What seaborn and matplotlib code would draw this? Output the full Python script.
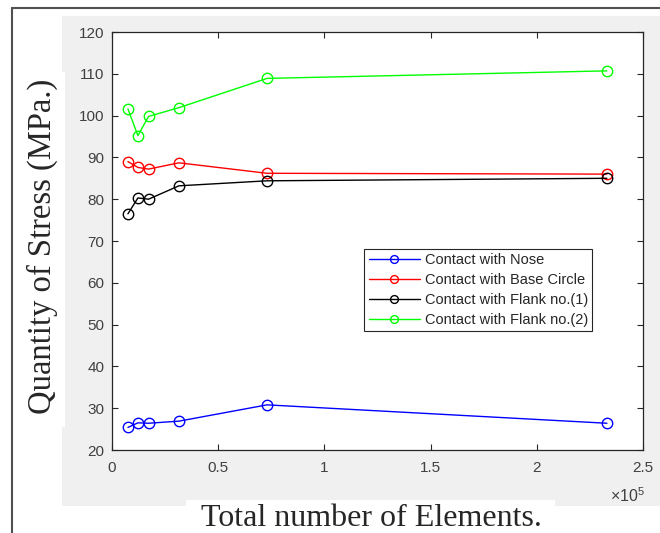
import pandas as pd
import matplotlib.pyplot as plt
import seaborn as sns
from matplotlib.patches import Rectangle
from matplotlib.lines import Line2D
from matplotlib.ticker import FuncFormatter

# datos
elementos = [7500, 12200, 17200, 31500, 73000, 233000]
nariz = [25.4, 26.5, 26.4, 26.9, 30.8, 26.4]
circulo_base = [89.0, 87.6, 87.2, 88.7, 86.2, 86.0]
flanco_1 = [76.5, 80.3, 80.0, 83.2, 84.4, 85.0]
flanco_2 = [101.6, 95.2, 99.8, 101.9, 108.9, 110.7]

series = ['Contact with Nose', 'Contact with Base Circle',
          'Contact with Flank no.(1)', 'Contact with Flank no.(2)']
colores = ['#0000ff', '#ff0000', '#000000', '#00ff00']

W, H = 660, 533


def caja(x0, y0, x1, y1):
    # convierte pixeles (origen arriba a la izquierda) a fraccion de figura
    return [x0 / W, 1 - y1 / H, (x1 - x0) / W, (y1 - y0) / H]


def main():
    df = pd.DataFrame({'Elementos': elementos * 4,
                       'Esfuerzo': nariz + circulo_base + flanco_1 + flanco_2,
                       'Serie': sum([[s] * len(elementos) for s in series], [])})

    sns.set_style('ticks')
    plt.rcParams['font.family'] = ['Liberation Sans', 'DejaVu Sans']
    plt.rcParams['mathtext.fontset'] = 'custom'
    plt.rcParams['mathtext.rm'] = 'Liberation Sans'

    fig = plt.figure(figsize=(6.6, 5.33), dpi=100)
    fig.patch.set_facecolor('white')

    # fondo gris estilo MATLAB y marco exterior
    for x0, y0, x1, y1, c in [(62, 16, 660, 506, '#f0f0f0'),
                              (12, 72, 65, 427, 'white'),
                              (186, 500, 555, 533, 'white')]:
        b = caja(x0, y0, x1, y1)
        fig.patches.append(Rectangle((b[0], b[1]), b[2], b[3], transform=fig.transFigure,
                                     facecolor=c, edgecolor='none', zorder=-5))
    fig.add_artist(Line2D([12 / W, 1], [1 - 8 / H, 1 - 8 / H], color='#505050', lw=1.5))
    fig.add_artist(Line2D([12 / W, 12 / W], [0, 1 - 8 / H], color='#505050', lw=1.5))

    ax = fig.add_axes(caja(112, 32, 643, 450))
    ax.set_facecolor('white')

    for s, c in zip(series, colores):
        sns.lineplot(data=df[df['Serie'] == s], x='Elementos', y='Esfuerzo', ax=ax,
                     color=c, lw=1.0, marker='o', markersize=7.5, markerfacecolor='none',
                     markeredgecolor=c, markeredgewidth=1.0, label=s)

    ax.set_xlim(0, 2.5e5)
    ax.set_ylim(20, 120)
    ax.set_xticks([i * 0.5e5 for i in range(6)])
    ax.set_yticks(range(20, 121, 10))
    ax.xaxis.set_major_formatter(FuncFormatter(lambda v, p: f'{v / 1e5:g}'))
    ax.tick_params(direction='in', top=True, right=True, length=4, width=0.8,
                   labelsize=11, labelcolor='#404040', color='#262626')
    ax.tick_params(axis='x', pad=8)
    ax.tick_params(axis='y', pad=5.5)
    for sp in ax.spines.values():
        sp.set_visible(True)
        sp.set_color('#262626')
        sp.set_linewidth(0.9)
    ax.set_xlabel('')
    ax.set_ylabel('')

    ax.legend(loc='upper left', bbox_to_anchor=(0.475, 0.481), fontsize=10.5,
              frameon=True, fancybox=False, framealpha=1, edgecolor='#262626',
              handlelength=3.5, handletextpad=0.35, labelspacing=0.4,
              borderpad=0.3, borderaxespad=0, markerscale=0.75)
    ax.get_legend().get_frame().set_linewidth(0.8)

    fig.text(645 / W, 1 - 502 / H, r'$\times\mathregular{10^{5}}$', ha='right',
             va='baseline', fontsize=11.5, color='#404040')

    fig.text(42 / W, 1 - 246 / H, 'Quantity of Stress (MPa.)', rotation=90,
             ha='center', va='center', fontsize=23.5, family='Liberation Serif')
    fig.text(371 / W, 1 - 526 / H, 'Total number of Elements.', ha='center',
             va='baseline', fontsize=23, family='Liberation Serif')

    fig.savefig('out.png', dpi=100)
    plt.close(fig)


if __name__ == '__main__':
    main()
